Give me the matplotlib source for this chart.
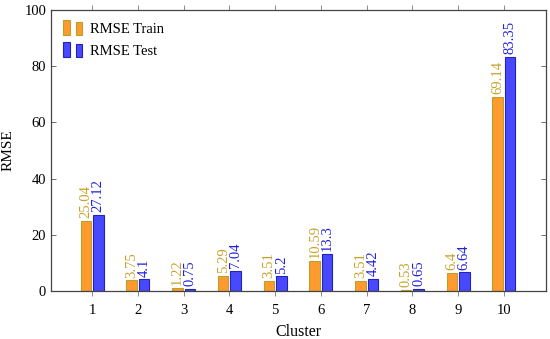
import matplotlib
matplotlib.use("Agg")
import matplotlib.pyplot as plt
import numpy as np
from matplotlib.legend_handler import HandlerBase
from matplotlib.patches import Rectangle

clusters = [1, 2, 3, 4, 5, 6, 7, 8, 9, 10]
rmse_train = [25.04, 3.75, 1.22, 5.29, 3.51, 10.59, 3.51, 0.53, 6.4, 69.14]
rmse_test = [27.12, 4.1, 0.75, 7.04, 5.2, 13.3, 4.42, 0.65, 6.64, 83.35]
train_labels = ["25.04", "3.75", "1.22", "5.29", "3.51", "10.59", "3.51", "0.53", "6.4", "69.14"]
test_labels = ["27.12", "4.1", "0.75", "7.04", "5.2", "13.3", "4.42", "0.65", "6.64", "83.35"]

plt.rcParams["font.family"] = ["Liberation Serif", "DejaVu Serif"]
plt.rcParams["font.size"] = 10

orange_fill, orange_edge, orange_text = "#FF9A2E", "#B9A12A", "#C9A227"
blue_fill, blue_edge, blue_text = "#4848FF", "#2424B4", "#2020E0"


class TwoBarHandler(HandlerBase):
    # pgfplots-style legend image: two little bars
    def create_artists(self, legend, orig_handle, xdescent, ydescent,
                       width, height, fontsize, trans):
        fc = orig_handle.get_facecolor()
        ec = orig_handle.get_edgecolor()
        w = width * 0.33
        h = height * 1.4
        r1 = Rectangle((-xdescent, -ydescent - 0.2 * height), w, h,
                       facecolor=fc, edgecolor=ec, lw=0.8, transform=trans)
        r2 = Rectangle((-xdescent + width * 0.6, -ydescent - 0.2 * height), w, h * 0.85,
                       facecolor=fc, edgecolor=ec, lw=0.8, transform=trans)
        return [r1, r2]


fig = plt.figure(figsize=(5.5, 3.39), dpi=100)
ax = fig.add_axes([0.0927, 0.1416, 0.9000, 0.8289])

x = np.array(clusters, dtype=float)
bw = 0.23
off = 0.135
b1 = ax.bar(x - off, rmse_train, bw, color=orange_fill, edgecolor=orange_edge,
            lw=0.8, label="RMSE Train", zorder=2)
b2 = ax.bar(x + off, rmse_test, bw, color=blue_fill, edgecolor=blue_edge,
            lw=0.8, label="RMSE Test", zorder=2)

for xi, v, t in zip(x - off, rmse_train, train_labels):
    ax.annotate(t, (xi, v), xytext=(0, 2), textcoords="offset points",
                rotation=90, ha="center", va="bottom", color=orange_text, fontsize=10.5)
for xi, v, t in zip(x + off, rmse_test, test_labels):
    ax.annotate(t, (xi, v), xytext=(0, 2), textcoords="offset points",
                rotation=90, ha="center", va="bottom", color=blue_text, fontsize=10.5)

ax.set_xlim(0.1, 10.92)
ax.set_ylim(0, 100)
ax.set_xticks(clusters)
ax.set_yticks([0, 20, 40, 60, 80, 100])
ax.tick_params(axis="y", direction="in", right=True, length=3.5, width=0.6,
               colors="#555555", labelcolor="black", labelsize=10.5)
ax.tick_params(axis="x", direction="out", top=True, length=3.5, width=0.6,
               colors="#777777", labelcolor="black", labelsize=10.5, pad=6)
for s in ax.spines.values():
    s.set_color("#444444")
    s.set_linewidth(0.9)

ax.set_xlabel("Cluster", labelpad=5, fontsize=11.5)
ax.set_ylabel("RMSE", labelpad=7, fontsize=11)

h1, h2 = b1.patches[0], b2.patches[0]
ax.legend(handles=[h1, h2], labels=["RMSE Train", "RMSE Test"], loc="upper left",
          frameon=False, handler_map={h1: TwoBarHandler(), h2: TwoBarHandler()},
          handlelength=1.4, handletextpad=0.4, borderaxespad=0.45, labelspacing=0.6,
          fontsize=10.5)

fig.savefig("out.png", dpi=100)
